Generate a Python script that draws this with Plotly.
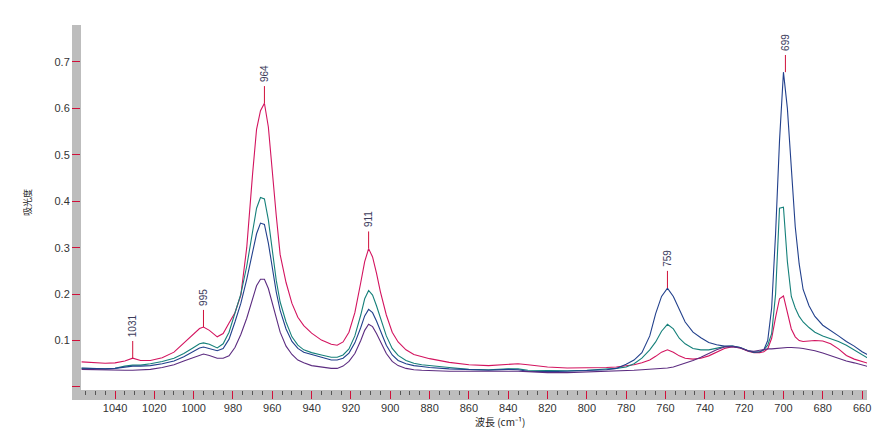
import plotly.graph_objects as go

# Wavenumber grid (cm^-1)
wavenumber = [
    1057, 1050, 1045, 1040, 1035, 1031, 1027, 1022, 1016, 1010, 1005, 1000,
    997, 995, 992, 988, 985, 982, 979, 976, 973, 970, 968, 966,
    964, 962, 960, 958, 956, 953, 950, 947, 944, 940, 935, 930,
    927, 924, 921, 918, 915, 913, 911, 909, 907, 905, 902, 899, 896, 892, 888, 884, 880,
    870, 860, 850, 840, 835, 830, 820, 810, 800, 790, 785, 780, 776, 772, 768, 765, 762, 759,
    756, 753, 750, 746, 742, 738, 734, 730, 726, 722, 718, 715, 712, 710, 708, 706,
    704, 702, 700, 698, 696, 694, 692, 690, 687, 684, 680, 676, 672, 668, 664, 660, 657,
]

spec_magenta = [
    0.054, 0.052, 0.051, 0.052, 0.056, 0.062, 0.057, 0.057, 0.063, 0.075, 0.095, 0.115,
    0.126, 0.129, 0.122, 0.108, 0.115, 0.138, 0.160, 0.198, 0.300, 0.460, 0.555, 0.595,
    0.611, 0.560, 0.460, 0.370, 0.285, 0.225, 0.180, 0.150, 0.132, 0.116, 0.101, 0.092,
    0.090, 0.097, 0.118, 0.160, 0.225, 0.270, 0.298, 0.280, 0.245, 0.205, 0.155, 0.118, 0.097, 0.080, 0.070, 0.065, 0.061,
    0.053, 0.048, 0.046, 0.048, 0.050, 0.048, 0.043, 0.041, 0.041, 0.042, 0.043, 0.045, 0.048, 0.052, 0.058, 0.066, 0.075, 0.080,
    0.075, 0.067, 0.062, 0.060, 0.062, 0.067, 0.075, 0.083, 0.087, 0.084, 0.077, 0.074, 0.074, 0.076, 0.082, 0.105,
    0.150, 0.190, 0.196, 0.162, 0.125, 0.108, 0.100, 0.098, 0.099, 0.100, 0.099, 0.093, 0.082, 0.068, 0.060, 0.055, 0.051,
]

spec_teal = [
    0.040, 0.039, 0.039, 0.040, 0.045, 0.047, 0.047, 0.050, 0.055, 0.062, 0.072, 0.085,
    0.093, 0.095, 0.092, 0.084, 0.093, 0.118, 0.158, 0.200, 0.260, 0.338, 0.385, 0.408,
    0.405, 0.360, 0.290, 0.230, 0.183, 0.140, 0.108, 0.090, 0.080, 0.074, 0.069, 0.064,
    0.064, 0.069, 0.082, 0.110, 0.155, 0.190, 0.208, 0.198, 0.175, 0.148, 0.110, 0.083, 0.068, 0.057, 0.051, 0.048, 0.046,
    0.042, 0.038, 0.037, 0.039, 0.039, 0.036, 0.035, 0.035, 0.036, 0.038, 0.040, 0.043, 0.050, 0.062, 0.080, 0.097, 0.120, 0.135,
    0.125, 0.105, 0.093, 0.083, 0.080, 0.080, 0.083, 0.087, 0.088, 0.085, 0.078, 0.075, 0.076, 0.080, 0.090, 0.115,
    0.200, 0.385, 0.387, 0.270, 0.195, 0.170, 0.152, 0.140, 0.128, 0.118, 0.110, 0.104, 0.098, 0.090, 0.080, 0.070, 0.062,
]

spec_navy = [
    0.041, 0.040, 0.039, 0.040, 0.043, 0.045, 0.045, 0.046, 0.050, 0.056, 0.065, 0.077,
    0.084, 0.086, 0.083, 0.078, 0.083, 0.103, 0.140, 0.180, 0.232, 0.295, 0.330, 0.353,
    0.350, 0.310, 0.255, 0.205, 0.165, 0.125, 0.098, 0.083, 0.075, 0.070, 0.065, 0.058,
    0.058, 0.062, 0.073, 0.095, 0.128, 0.153, 0.167, 0.160, 0.142, 0.120, 0.090, 0.069, 0.057, 0.050, 0.046, 0.044, 0.042,
    0.039, 0.037, 0.036, 0.038, 0.037, 0.034, 0.033, 0.034, 0.035, 0.037, 0.040, 0.049, 0.058, 0.074, 0.110, 0.158, 0.195, 0.213,
    0.195, 0.168, 0.140, 0.118, 0.106, 0.096, 0.091, 0.088, 0.088, 0.085, 0.078, 0.075, 0.076, 0.080, 0.100, 0.170,
    0.330, 0.530, 0.678, 0.600, 0.470, 0.345, 0.265, 0.210, 0.175, 0.152, 0.133, 0.122, 0.110, 0.098, 0.088, 0.076, 0.069,
]

spec_purple = [
    0.038, 0.037, 0.036, 0.036, 0.036, 0.036, 0.037, 0.038, 0.042, 0.048, 0.056, 0.064,
    0.069, 0.071, 0.068, 0.062, 0.062, 0.067, 0.085, 0.113, 0.148, 0.190, 0.218, 0.232,
    0.232, 0.212, 0.180, 0.145, 0.118, 0.088, 0.070, 0.058, 0.052, 0.046, 0.043, 0.040,
    0.040, 0.045, 0.055, 0.072, 0.100, 0.122, 0.135, 0.130, 0.115, 0.097, 0.072, 0.055, 0.046, 0.040, 0.037, 0.036, 0.035,
    0.034, 0.034, 0.034, 0.035, 0.034, 0.033, 0.031, 0.031, 0.032, 0.033, 0.034, 0.035, 0.036, 0.037, 0.038, 0.039, 0.039, 0.041,
    0.043, 0.047, 0.051, 0.057, 0.064, 0.072, 0.080, 0.086, 0.087, 0.084, 0.078, 0.077, 0.079, 0.081, 0.082, 0.082,
    0.083, 0.084, 0.085, 0.085, 0.085, 0.085, 0.084, 0.083, 0.081, 0.078, 0.073, 0.067, 0.061, 0.056, 0.052, 0.047, 0.044,
]

# Peak labels
peak_wavenumbers = [1031, 995, 964, 911, 759, 699]
peak_values = [0.062, 0.129, 0.611, 0.298, 0.213, 0.678]

y_tick_values = [0, 0.1, 0.2, 0.3, 0.4, 0.5, 0.6, 0.7]
y_tick_text = ["", "0.1", "0.2", "0.3", "0.4", "0.5", "0.6", "0.7"]
x_tick_values = [1040, 1020, 1000, 980, 960, 940, 920, 900, 880, 860, 840, 820,
                 800, 780, 760, 740, 720, 700, 680, 660]

series = [
    (spec_magenta, "#D3145F"),
    (spec_teal, "#16807A"),
    (spec_navy, "#22408C"),
    (spec_purple, "#5C2C80"),
]

W, H = 887, 429
L, R, T, B = 81, 20, 25, 39
pw, ph = W - L - R, H - T - B

fig = go.Figure()
for vals, col in series:
    fig.add_trace(go.Scatter(x=wavenumber, y=vals, mode="lines",
                             line=dict(color=col, width=1.1), hoverinfo="skip",
                             showlegend=False))

shapes = []
annotations = []
# gray axis bands
band_col = "#BDBDBD"
shapes.append(dict(type="rect", xref="paper", yref="paper",
                   x0=-9 / pw, x1=0, y0=-10 / ph, y1=1,
                   fillcolor=band_col, line=dict(width=0), layer="below"))
shapes.append(dict(type="rect", xref="paper", yref="paper",
                   x0=-9 / pw, x1=1, y0=-10 / ph, y1=0,
                   fillcolor=band_col, line=dict(width=0), layer="below"))

line_len = 0.037
for px, pv in zip(peak_wavenumbers, peak_values):
    shapes.append(dict(type="line", xref="x", yref="y", x0=px, x1=px,
                       y0=pv, y1=pv + line_len,
                       line=dict(color="#D0103A", width=1)))
    annotations.append(dict(x=px, y=pv + line_len, xref="x", yref="y",
                            text=str(px), showarrow=False, textangle=-90,
                            xanchor="center", yanchor="bottom", yshift=2,
                            font=dict(family="Liberation Sans", size=10, color="#3C3C5C")))

annotations.append(dict(x=(27 - L) / pw, y=(H - B - 203) / ph, xref="paper", yref="paper",
                        text="吸光度", showarrow=False, textangle=-90,
                        xanchor="center", yanchor="middle",
                        font=dict(family="Noto Sans CJK JP", size=9, color="#222222")))
annotations.append(dict(x=(473 - L) / pw, y=(H - B - 421.5) / ph, xref="paper", yref="paper",
                        text="波長 (cm⁻¹)", showarrow=False,
                        xanchor="left", yanchor="middle",
                        font=dict(family="Noto Sans CJK JP", size=10, color="#222222")))

fig.update_layout(
    width=W, height=H,
    margin=dict(l=L, r=R, t=T, b=B, pad=0),
    paper_bgcolor="white", plot_bgcolor="white",
    shapes=shapes, annotations=annotations,
    showlegend=False,
    xaxis=dict(range=[1057.3, 657.5], showgrid=False, zeroline=False, showline=False,
               tickmode="array", tickvals=x_tick_values,
               ticks="outside", ticklen=8, tickcolor="#D0103A", tickwidth=1,
               tickfont=dict(family="Liberation Sans", size=11, color="#333333"),
               minor=dict(dtick=5, tick0=0, ticks="outside", ticklen=4,
                          tickcolor="#555555", tickwidth=1, showgrid=False)),
    yaxis=dict(range=[-0.0065, 0.7796], showgrid=False, zeroline=False, showline=False,
               tickmode="array", tickvals=y_tick_values, ticktext=y_tick_text,
               ticks="outside", ticklen=8, tickcolor="#D0103A", tickwidth=1,
               tickfont=dict(family="Liberation Sans", size=11, color="#333333")),
)

fig.write_html("out.html")
